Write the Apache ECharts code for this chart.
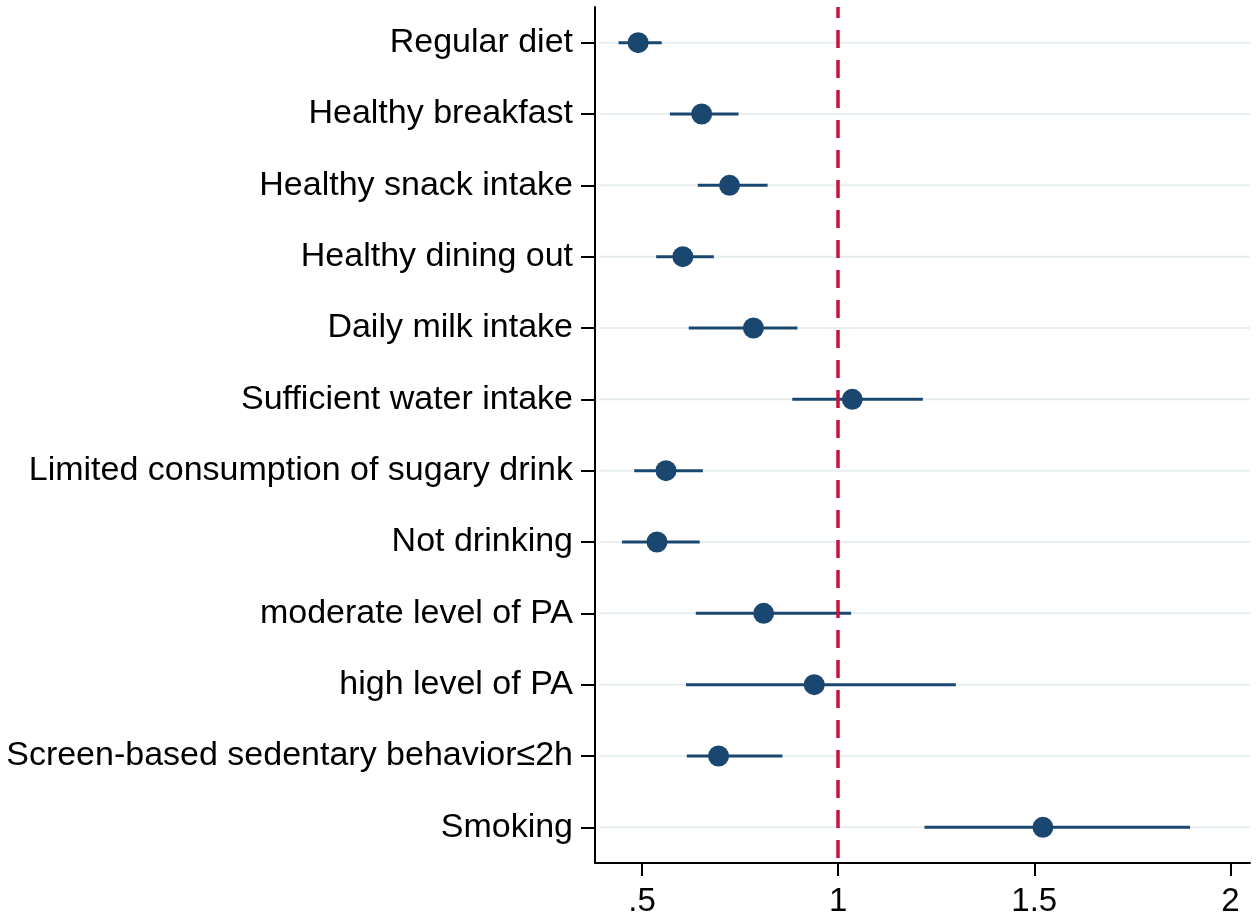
<!DOCTYPE html>
<html>
<head>
<meta charset="utf-8">
<script src="https://cdn.jsdelivr.net/npm/echarts@6/dist/echarts.min.js"></script>
<style>
  html, body { margin: 0; padding: 0; background: #fff; }
  #chart { width: 1258px; height: 922px; }
</style>
</head>
<body>
<div id="chart"></div>
<script>
var categories = [
    'Regular diet',
    'Healthy breakfast',
    'Healthy snack intake',
    'Healthy dining out',
    'Daily milk intake',
    'Sufficient water intake',
    'Limited consumption of sugary drink',
    'Not drinking',
    'moderate level of PA',
    'high level of PA',
    'Screen-based sedentary behavior\u22642h',
    'Smoking'
];
var estimates = [0.49, 0.652, 0.723, 0.604, 0.784, 1.036, 0.561, 0.538, 0.810, 0.939, 0.695, 1.522];
var lower = [0.44, 0.571, 0.642, 0.536, 0.619, 0.883, 0.480, 0.449, 0.637, 0.612, 0.614, 1.220];
var upper = [0.55, 0.746, 0.820, 0.683, 0.896, 1.216, 0.655, 0.647, 1.033, 1.300, 0.858, 1.897];
var xTicks = [0.5, 1, 1.5, 2];
var refValue = 1;

var chart = echarts.init(document.getElementById('chart'));

var ciData = [];
var pointData = [];
for (var i = 0; i < categories.length; i++) {
    ciData.push([lower[i], upper[i], i]);
    pointData.push([estimates[i], i]);
}

var font = 'Arial, "Liberation Sans", sans-serif';

var option = {
    backgroundColor: '#fff',
    animation: false,
    grid: {
        left: 595,
        right: 8,
        top: 7,
        bottom: 59
    },
    xAxis: {
        type: 'value',
        min: 0.38,
        max: 2.05,
        axisLine: { show: true, lineStyle: { color: '#000', width: 2 } },
        axisTick: {
            show: true,
            customValues: xTicks,
            length: 13,
            lineStyle: { color: '#000', width: 2 }
        },
        axisLabel: {
            customValues: xTicks,
            margin: 22,
            color: '#000',
            fontSize: 33,
            fontFamily: font,
            formatter: function (v) {
                return String(v).replace(/^0\./, '.');
            }
        },
        splitLine: { show: false }
    },
    yAxis: {
        type: 'category',
        data: categories,
        inverse: true,
        axisLine: { show: true, lineStyle: { color: '#000', width: 2 } },
        axisTick: {
            show: true,
            alignWithLabel: true,
            length: 14,
            lineStyle: { color: '#000', width: 2 }
        },
        axisLabel: {
            margin: 22,
            color: '#000',
            fontSize: 34,
            fontFamily: font
        },
        splitLine: { show: false }
    },
    series: [{
        // light grid lines through each row
        type: 'custom',
        z: 1,
        silent: true,
        data: ciData,
        encode: { x: [0, 1], y: 2 },
        renderItem: function (params, api) {
            var y = api.coord([1, api.value(2)])[1];
            var cs = params.coordSys;
            return {
                type: 'line',
                shape: { x1: cs.x + 4, y1: y, x2: cs.x + cs.width, y2: y },
                style: { stroke: '#e6eef1', lineWidth: 2 }
            };
        }
    }, {
        type: 'line',
        z: 2,
        data: [],
        markLine: {
            silent: true,
            symbol: 'none',
            label: { show: false },
            lineStyle: { color: '#c9123e', width: 3.5, type: [18, 12], dashOffset: 7 },
            data: [{ xAxis: refValue }]
        }
    }, {
        // confidence intervals
        type: 'custom',
        z: 3,
        silent: true,
        data: ciData,
        encode: { x: [0, 1], y: 2 },
        renderItem: function (params, api) {
            var p1 = api.coord([api.value(0), api.value(2)]);
            var p2 = api.coord([api.value(1), api.value(2)]);
            return {
                type: 'line',
                shape: { x1: p1[0], y1: p1[1], x2: p2[0], y2: p2[1] },
                style: { stroke: '#1a476f', lineWidth: 3 }
            };
        }
    }, {
        type: 'scatter',
        z: 5,
        silent: true,
        symbol: 'circle',
        symbolSize: 21,
        itemStyle: { color: '#1a476f', opacity: 1 },
        data: pointData
    }]
};

chart.setOption(option);
</script>
</body>
</html>
